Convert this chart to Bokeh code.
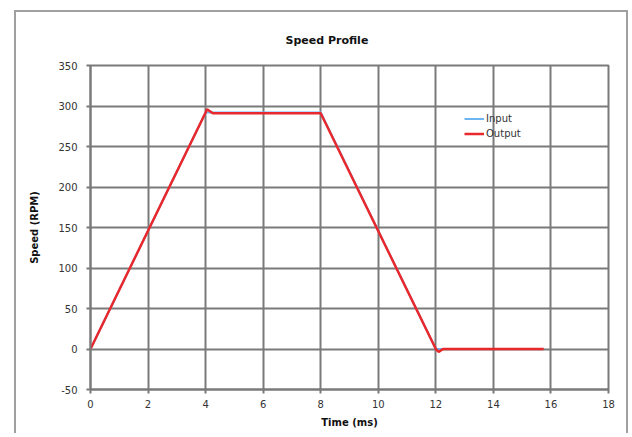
from bokeh.plotting import figure
from bokeh.models import Legend, LegendItem, FixedTicker, PrintfTickFormatter
from bokeh.embed import file_html
from bokeh.resources import INLINE

# Data
input_t = [0.0, 4.0, 8.0, 12.0, 15.75]
input_v = [0.0, 292.0, 292.0, 0.0, 0.0]

output_t = [0.0, 4.0, 4.05, 4.25, 8.0, 12.0, 12.1, 12.25, 15.75]
output_v = [0.0, 292.0, 296.0, 291.0, 291.0, 0.0, -3.5, 0.0, 0.0]

x_ticks = [0, 2, 4, 6, 8, 10, 12, 14, 16, 18]
y_ticks = [-50, 0, 50, 100, 150, 200, 250, 300, 350]

FONT = "DejaVu Sans"
GRID = "#7a7a7a"

p = figure(width=614, height=423, output_backend="svg", toolbar_location=None,
           x_range=(0, 18), y_range=(-50, 350),
           min_border_left=74, min_border_right=22, min_border_top=53, min_border_bottom=46)
p.margin = (10, 0, 0, 14)
p.styles = {"border-left": "2px solid #a0a0a0",
            "border-top": "2px solid #a0a0a0",
            "border-right": "2px solid #a0a0a0"}
p.background_fill_color = "white"
p.border_fill_color = "white"
p.outline_line_color = GRID
p.outline_line_width = 2

p.title.text = "Speed Profile"
p.title.align = "left"
p.title.offset = 195
p.title.text_font = FONT
p.title.text_font_size = "11px"
p.title.text_font_style = "bold"
p.title.text_color = "#111111"
p.title.standoff = 37

for ax in (p.xaxis[0], p.yaxis[0]):
    ax.axis_line_color = GRID
    ax.axis_line_width = 2
    ax.major_tick_line_color = GRID
    ax.major_tick_line_width = 2
    ax.major_tick_in = 0
    ax.major_tick_out = 4
    ax.minor_tick_line_color = None
    ax.major_label_text_font = FONT
    ax.major_label_text_font_size = "10px"
    ax.major_label_text_color = "#333333"
    ax.axis_label_text_font = FONT
    ax.axis_label_text_font_size = "10px"
    ax.axis_label_text_font_style = "bold"
    ax.axis_label_text_color = "#111111"
    ax.formatter = PrintfTickFormatter(format="%d")

p.xaxis[0].ticker = FixedTicker(ticks=x_ticks)
p.yaxis[0].ticker = FixedTicker(ticks=y_ticks)
p.xaxis[0].axis_label = "Time (ms)"
p.yaxis[0].axis_label = "Speed (RPM)"
p.xaxis[0].major_label_standoff = 6
p.yaxis[0].major_label_standoff = 9
p.xaxis[0].axis_label_standoff = 6
p.yaxis[0].axis_label_standoff = 15

p.xgrid.ticker = FixedTicker(ticks=x_ticks)
p.ygrid.ticker = FixedTicker(ticks=y_ticks)
p.xgrid.grid_line_color = GRID
p.ygrid.grid_line_color = GRID
p.xgrid.grid_line_width = 2
p.ygrid.grid_line_width = 2

r_in = p.line(input_t, input_v, line_color="#6db4f2", line_width=2)
r_out = p.line(output_t, output_v, line_color="#e8282c", line_width=2.5)

legend = Legend(items=[LegendItem(label="Input", renderers=[r_in]),
                       LegendItem(label="Output", renderers=[r_out])],
                location=(374, 248), orientation="vertical",
                border_line_color=None, background_fill_alpha=0,
                padding=0, spacing=0, margin=0,
                glyph_width=20, glyph_height=15, label_height=15,
                label_standoff=2,
                label_text_font=FONT, label_text_font_size="10px",
                label_text_color="#333333")
p.add_layout(legend, "center")

open("out.html", "w").write(file_html(p, INLINE))
